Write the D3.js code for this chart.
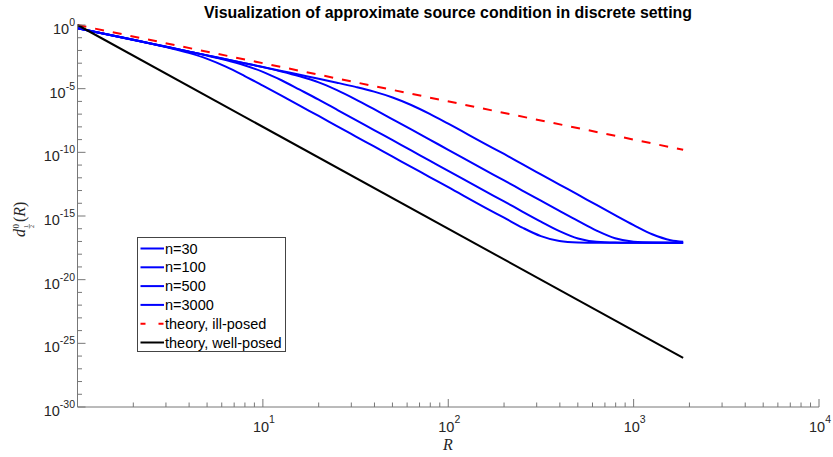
<!DOCTYPE html>
<html>
<head>
<meta charset="utf-8">
<script src="https://cdn.jsdelivr.net/npm/d3@7"></script>
<style>
  body { margin: 0; background: #fff; }
  svg { display: block; font-family: "Liberation Sans", Arial, sans-serif; }
</style>
</head>
<body>
<svg id="viz" width="833" height="457"></svg>
<script>
const WIDTH = 833;
const HEIGHT = 457;

// R grid shared by the blue curves
const rGrid = [1, 2.0, 3.16, 3.98, 5.01, 6.31, 7.94, 10, 12.6, 15.8, 20, 25.1, 31.6, 39.8, 50.1,
  63.1, 79.4, 100, 158, 200, 251, 316, 398, 501, 631, 794, 1000, 1259, 1585, 1850];

// log10 of d(R)
const n30 = [-0.25, -1.17, -1.81, -2.19, -2.66, -3.27, -3.99, -4.76, -5.545, -6.34, -7.14, -7.94, -8.74,
  -9.54, -10.34, -11.14, -11.94, -12.74, -14.34, -15.135, -15.91, -16.58, -16.97, -17.08, -17.1, -17.1,
  -17.1, -17.1, -17.1, -17.1];
const n100 = [-0.25, -1.165, -1.78, -2.09, -2.405, -2.75, -3.16, -3.68, -4.34, -5.08, -5.86, -6.65, -7.45,
  -8.25, -9.05, -9.85, -10.65, -11.45, -13.05, -13.85, -14.65, -15.44, -16.19, -16.77, -17.03, -17.09,
  -17.1, -17.1, -17.1, -17.1];
const n500 = [-0.25, -1.165, -1.775, -2.08, -2.385, -2.69, -3.0, -3.31, -3.65, -4.03, -4.51, -5.12, -5.84,
  -6.615, -7.405, -8.2, -9.0, -9.8, -11.4, -12.2, -13.0, -13.8, -14.6, -15.39, -16.15, -16.75, -17.02,
  -17.09, -17.1, -17.1];
const n3000 = [-0.25, -1.165, -1.775, -2.08, -2.385, -2.69, -2.995, -3.3, -3.605, -3.91, -4.22, -4.53, -4.86,
  -5.23, -5.69, -6.28, -6.98, -7.75, -9.33, -10.13, -10.93, -11.73, -12.53, -13.33, -14.13, -14.93, -15.71,
  -16.43, -16.9, -17.03];

// theory lines (straight on log-log)
const theoryR = [1, 1850];
const illPosed = [0, -9.8];
const wellPosed = [0, -26.14];

const blueSeries = [
  { name: "n=30", values: n30 },
  { name: "n=100", values: n100 },
  { name: "n=500", values: n500 },
  { name: "n=3000", values: n3000 }
];

const xMajor = [1, 2, 3, 4];          // exponents labelled on x
const yMajor = [0, -5, -10, -15, -20, -25, -30];

const svg = d3.select("#viz");

const x = d3.scaleLog().domain([1, 1e4]).range([77.5, 819]);
const y = d3.scaleLog().domain([1e-30, 1]).range([407, 25]);

const AXIS = "#777";
const LABEL = "#262626";

const line = d3.line()
  .x(d => x(d[0]))
  .y(d => y(Math.pow(10, d[1])))
  .curve(d3.curveMonotoneX);

// curves
const curves = svg.append("g");
blueSeries.forEach(s => {
  curves.append("path")
    .attr("d", line(rGrid.map((r, i) => [r, s.values[i]])))
    .attr("fill", "none")
    .attr("stroke", "#0000ff")
    .attr("stroke-width", 2);
});
curves.append("path")
  .attr("d", line(theoryR.map((r, i) => [r, illPosed[i]])))
  .attr("fill", "none")
  .attr("stroke", "#ff0000")
  .attr("stroke-width", 2)
  .attr("stroke-dasharray", "9,9");
curves.append("path")
  .attr("d", line(theoryR.map((r, i) => [r, wellPosed[i]])))
  .attr("fill", "none")
  .attr("stroke", "#000")
  .attr("stroke-width", 2);

// axes
const ax = svg.append("g").attr("stroke", AXIS).attr("stroke-width", 1);
const x0 = x.range()[0], x1 = x.range()[1];
const y0 = y.range()[0], y1 = y.range()[1];
ax.append("line").attr("x1", x0).attr("x2", x1).attr("y1", y0).attr("y2", y0);
ax.append("line").attr("x1", x0).attr("x2", x0).attr("y1", y0).attr("y2", y1);

// x ticks
for (let k = 0; k < 4; k++) {
  for (let m = 2; m <= 9; m++) {
    const px = x(m * Math.pow(10, k));
    ax.append("line").attr("x1", px).attr("x2", px).attr("y1", y0).attr("y2", y0 - 4.5);
  }
}
xMajor.forEach(e => {
  const px = x(Math.pow(10, e));
  ax.append("line").attr("x1", px).attr("x2", px).attr("y1", y0).attr("y2", y0 - 8);
  const t = svg.append("text")
    .attr("x", px + 1)
    .attr("y", y0 + 25)
    .attr("text-anchor", "middle")
    .attr("fill", LABEL)
    .attr("font-size", 14.5);
  t.append("tspan").text("10");
  t.append("tspan").attr("dy", -9).attr("font-size", 10.5).text(e);
});

// y ticks
for (let e = -29; e <= -1; e++) {
  if (e % 5 === 0) continue;
  const py = y(Math.pow(10, e));
  ax.append("line").attr("x1", x0).attr("x2", x0 + 4.5).attr("y1", py).attr("y2", py);
}
yMajor.forEach(e => {
  const py = y(Math.pow(10, e));
  ax.append("line").attr("x1", x0).attr("x2", x0 + 8).attr("y1", py).attr("y2", py);
  const t = svg.append("text")
    .attr("x", 75)
    .attr("y", py + 9)
    .attr("text-anchor", "end")
    .attr("fill", LABEL)
    .attr("font-size", 14.5);
  t.append("tspan").text("10");
  t.append("tspan").attr("dy", -8).attr("font-size", 10.5).text(String(e));
});

// title
svg.append("text")
  .attr("x", 448)
  .attr("y", 18)
  .attr("text-anchor", "middle")
  .attr("font-weight", "bold")
  .attr("font-size", 15.9)
  .attr("fill", "#000")
  .text("Visualization of approximate source condition in discrete setting");

// x label
svg.append("text")
  .attr("x", 448)
  .attr("y", 450)
  .attr("text-anchor", "middle")
  .attr("font-family", "'Liberation Serif', serif")
  .attr("font-style", "italic")
  .attr("font-size", 16)
  .attr("fill", LABEL)
  .text("R");

// y label: d^0_{1/2}(R)
const yl = svg.append("g")
  .attr("transform", "translate(25,217) rotate(-90)")
  .attr("fill", LABEL)
  .attr("font-family", "'Liberation Serif', serif");
yl.append("text").attr("x", -20).attr("y", 0).attr("font-style", "italic").attr("font-size", 16).text("d");
yl.append("text").attr("x", -11.5).attr("y", -6).attr("font-size", 9).text("0");
yl.append("text").attr("x", -11).attr("y", 3).attr("font-size", 6).text("1");
yl.append("line").attr("x1", -11.5).attr("x2", -7).attr("y1", 4.3).attr("y2", 4.3)
  .attr("stroke", LABEL).attr("stroke-width", 0.5);
yl.append("text").attr("x", -11).attr("y", 9).attr("font-size", 6).text("2");
const paren = yl.append("text").attr("x", -5).attr("y", 0).attr("font-size", 16);
paren.append("tspan").text("(");
paren.append("tspan").attr("font-style", "italic").text("R");
paren.append("tspan").text(")");

// legend
const legendItems = [
  { name: "n=30", color: "#0000ff", dash: null },
  { name: "n=100", color: "#0000ff", dash: null },
  { name: "n=500", color: "#0000ff", dash: null },
  { name: "n=3000", color: "#0000ff", dash: null },
  { name: "theory, ill-posed", color: "#ff0000", dash: "5,13" },
  { name: "theory, well-posed", color: "#000", dash: null }
];
const lg = svg.append("g");
lg.append("rect")
  .attr("x", 137.5).attr("y", 237.5)
  .attr("width", 148).attr("height", 114)
  .attr("fill", "#fff")
  .attr("stroke", "#444")
  .attr("stroke-width", 1);
legendItems.forEach((d, i) => {
  const ly = 248.5 + i * 18.8;
  lg.append("line")
    .attr("x1", 140.5).attr("x2", 164)
    .attr("y1", ly).attr("y2", ly)
    .attr("stroke", d.color)
    .attr("stroke-width", 2)
    .attr("stroke-dasharray", d.dash);
  lg.append("text")
    .attr("x", 165)
    .attr("y", ly + 5)
    .attr("font-size", 14.5)
    .attr("fill", "#000")
    .text(d.name);
});
</script>
</body>
</html>
